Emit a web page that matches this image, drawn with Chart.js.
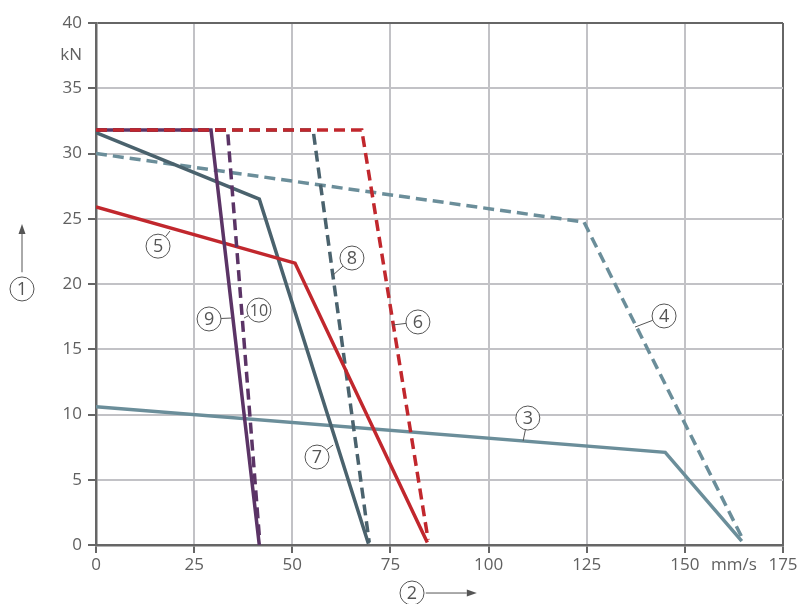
<!DOCTYPE html>
<html>
<head>
<meta charset="utf-8">
<script src="https://cdn.jsdelivr.net/npm/chart.js@4.4.1/dist/chart.umd.min.js"></script>
<style>
  html, body { margin: 0; padding: 0; background: #fff; }
</style>
</head>
<body>
<canvas id="chart" width="800" height="604"></canvas>
<script>
// tick values and unit labels
const xTicks = [0, 25, 50, 75, 100, 125, 150, 175];
const yTicks = [0, 5, 10, 15, 20, 25, 30, 35, 40];
const xUnit = { value: 162.5, label: 'mm/s' };
const yUnit = { value: 37.5, label: 'kN' };

// curves, [speed mm/s, force kN]
const curve3 = [[0, 10.6], [145, 7.1], [164.5, 0.3]];
const curve4 = [[0, 30.0], [124.3, 24.75], [165, 0.3]];
const curve5 = [[0, 25.9], [50.7, 21.6], [84.4, 0.2]];
const curve6 = [[0, 31.8], [67.7, 31.8], [84.6, 0.4]];
const curve7 = [[0, 31.6], [41.6, 26.5], [69.4, 0.1]];
const curve8 = [[0, 31.8], [55.3, 31.8], [69.6, 0.2]];
const curve9 = [[0, 31.8], [29.3, 31.8], [41.6, 0]];
const curve10 = [[0, 31.8], [33.5, 31.8], [41.7, 0.3]];

// callouts: [text, circle x, circle y, leader end x, leader end y] in data units
const callouts = [
    ['3', 110.0, 9.73, 108.8, 7.97],
    ['4', 144.7, 17.55, 137.3, 16.7],
    ['5', 15.8, 22.9, 18.85, 24.06],
    ['6', 82.0, 17.09, 75.6, 16.86],
    ['7', 56.3, 6.74, 60.4, 7.66],
    ['8', 65.2, 21.99, 60.4, 20.69],
    ['9', 28.8, 17.32, 34.4, 17.39],
    ['10', 41.5, 18.0, 37.7, 17.39]
];
// axis markers with arrows: [text, circle x, circle y, arrow from x, y, arrow to x, y]
const axisMarkers = [
    ['1', -18.85, 19.62, -18.85, 20.9, -18.85, 24.6],
    ['2', 80.5, -3.68, 84.0, -3.68, 97.0, -3.68]
];

const SLATE_LIGHT = '#6b8e9a';
const SLATE_DARK = '#4a626d';
const RED = '#c1272d';
const PURPLE = '#5b3466';
const GRID = '#c2c2c6';
const AXIS = '#666666';
const TEXT = '#606060';

function toPoints(arr) {
    return arr.map(p => ({ x: p[0], y: p[1] }));
}

function lineSet(label, arr, color, dashed) {
    return {
        label: label,
        data: toPoints(arr),
        borderColor: color,
        backgroundColor: color,
        borderWidth: 3.5,
        borderDash: dashed ? [11, 6] : [],
        pointRadius: 0,
        tension: 0,
        fill: false
    };
}

const calloutPlugin = {
    id: 'callouts',
    afterDatasetsDraw(chart) {
        const ctx = chart.ctx;
        const xs = chart.scales.x;
        const ys = chart.scales.y;
        const r = 12;

        function circle(text, cx, cy) {
            ctx.beginPath();
            ctx.arc(cx, cy, r, 0, Math.PI * 2);
            ctx.fillStyle = '#fff';
            ctx.fill();
            ctx.lineWidth = 1;
            ctx.strokeStyle = '#555';
            ctx.stroke();
            ctx.fillStyle = '#555';
            ctx.font = (text.length > 1 ? '16px' : '18px') + ' "Open Sans"';
            ctx.textAlign = 'center';
            ctx.textBaseline = 'middle';
            ctx.fillText(text, cx, cy + 1);
        }

        ctx.save();
        for (const c of callouts) {
            const cx = xs.getPixelForValue(c[1]);
            const cy = ys.getPixelForValue(c[2]);
            const lx = xs.getPixelForValue(c[3]);
            const ly = ys.getPixelForValue(c[4]);
            const d = Math.hypot(lx - cx, ly - cy);
            ctx.beginPath();
            ctx.moveTo(cx + (lx - cx) * r / d, cy + (ly - cy) * r / d);
            ctx.lineTo(lx, ly);
            ctx.lineWidth = 1;
            ctx.strokeStyle = '#555';
            ctx.stroke();
            circle(c[0], cx, cy);
        }

        for (const m of axisMarkers) {
            const cx = xs.getPixelForValue(m[1]);
            const cy = ys.getPixelForValue(m[2]);
            const x1 = xs.getPixelForValue(m[3]);
            const y1 = ys.getPixelForValue(m[4]);
            const x2 = xs.getPixelForValue(m[5]);
            const y2 = ys.getPixelForValue(m[6]);
            const ang = Math.atan2(y2 - y1, x2 - x1);
            const head = 10;
            ctx.beginPath();
            ctx.moveTo(x1, y1);
            ctx.lineTo(x2 - Math.cos(ang) * head, y2 - Math.sin(ang) * head);
            ctx.lineWidth = 1;
            ctx.strokeStyle = '#555';
            ctx.stroke();
            ctx.beginPath();
            ctx.moveTo(x2, y2);
            ctx.lineTo(x2 - Math.cos(ang) * head + Math.sin(ang) * 3.5, y2 - Math.sin(ang) * head - Math.cos(ang) * 3.5);
            ctx.lineTo(x2 - Math.cos(ang) * head - Math.sin(ang) * 3.5, y2 - Math.sin(ang) * head + Math.cos(ang) * 3.5);
            ctx.closePath();
            ctx.fillStyle = '#555';
            ctx.fill();
            circle(m[0], cx, cy);
        }
        ctx.restore();
    }
};

function isUnit(scale, value) {
    return scale.axis === 'x' ? value === xUnit.value : value === yUnit.value;
}

function gridColor(ctx) {
    const v = ctx.tick ? ctx.tick.value : null;
    if (isUnit(ctx.scale, v)) return 'rgba(0,0,0,0)';
    if (v === ctx.scale.max) return AXIS;
    return GRID;
}

function tickColor(ctx) {
    const v = ctx.tick ? ctx.tick.value : null;
    return isUnit(ctx.scale, v) ? 'rgba(0,0,0,0)' : AXIS;
}

const tickFont = { family: '"Open Sans"', size: 17 };

new Chart(document.getElementById('chart').getContext('2d'), {
    type: 'line',
    data: {
        datasets: [
            lineSet('6', curve6, RED, true),
            lineSet('10', curve10, PURPLE, true),
            lineSet('9', curve9, PURPLE, false),
            lineSet('5', curve5, RED, false),
            lineSet('8', curve8, SLATE_DARK, true),
            lineSet('7', curve7, SLATE_DARK, false),
            lineSet('4', curve4, SLATE_LIGHT, true),
            lineSet('3', curve3, SLATE_LIGHT, false)
        ]
    },
    options: {
        responsive: false,
        animation: false,
        devicePixelRatio: 1,
        layout: { padding: { top: 23, right: 17, left: 0, bottom: 0 } },
        plugins: {
            legend: { display: false },
            tooltip: { enabled: false }
        },
        scales: {
            x: {
                type: 'linear',
                min: 0,
                max: 175,
                afterBuildTicks(scale) {
                    scale.ticks = xTicks.concat([xUnit.value]).sort((a, b) => a - b).map(v => ({ value: v }));
                },
                afterFit(scale) { scale.height = 59; },
                border: { color: AXIS, width: 2.5 },
                grid: { color: gridColor, tickColor: tickColor, lineWidth: 2, tickLength: 8 },
                ticks: {
                    autoSkip: false,
                    maxRotation: 0,
                    padding: 2,
                    color: TEXT,
                    font: tickFont,
                    callback: v => (v === xUnit.value ? xUnit.label : v)
                }
            },
            y: {
                type: 'linear',
                min: 0,
                max: 40,
                afterBuildTicks(scale) {
                    scale.ticks = yTicks.concat([yUnit.value]).sort((a, b) => a - b).map(v => ({ value: v }));
                },
                afterFit(scale) { scale.width = 96; },
                border: { color: AXIS, width: 2.5 },
                grid: { color: gridColor, tickColor: tickColor, lineWidth: 2, tickLength: 8 },
                ticks: {
                    autoSkip: false,
                    padding: 6,
                    color: TEXT,
                    font: tickFont,
                    callback: v => (v === yUnit.value ? yUnit.label : v)
                }
            }
        }
    },
    plugins: [calloutPlugin]
});
</script>
</body>
</html>
